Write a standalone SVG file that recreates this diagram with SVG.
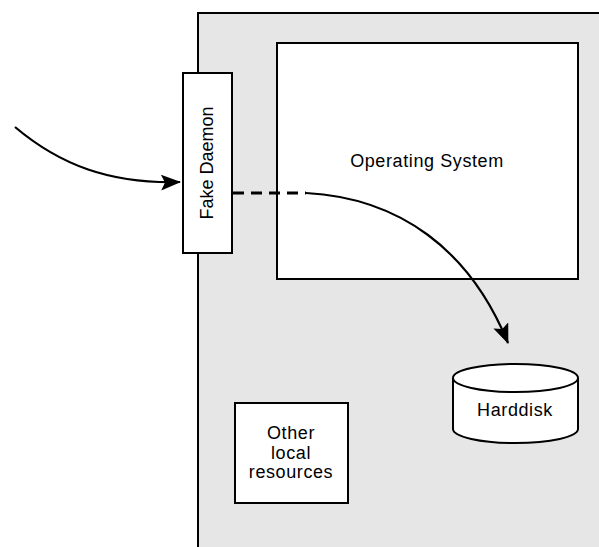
<svg xmlns="http://www.w3.org/2000/svg" width="599" height="547" viewBox="0 0 599 547">
  <style>
    .box { fill: #ffffff; stroke: #000000; stroke-width: 2; }
    .label { font-family: "Liberation Sans", Arial, sans-serif; font-size: 18px; fill: #000000; text-anchor: middle; letter-spacing: 0.6px; }
    .edge { fill: none; stroke: #000000; stroke-width: 2.2; }
    .dash { fill: none; stroke: #000000; stroke-width: 3; stroke-dasharray: 11 7; }
  </style>
  <defs>
    <marker id="arrowhead" viewBox="0 0 20 16" refX="19" refY="8" markerWidth="20" markerHeight="16" markerUnits="userSpaceOnUse" orient="auto">
      <path d="M0,0 L20,8 L0,16 L4,8 Z" fill="#000000"/>
    </marker>
  </defs>

  <!-- host machine -->
  <g id="host">
    <rect x="198" y="13" width="402" height="535" fill="#e6e6e6"/>
    <path d="M198,548 L198,13 L600,13" fill="none" stroke="#000" stroke-width="2"/>
  </g>

  <g id="operating-system">
    <rect class="box" x="277" y="43" width="301" height="236"/>
    <text class="label" x="427" y="167">Operating System</text>
  </g>

  <g id="other-resources">
    <rect class="box" x="235" y="403" width="113" height="100"/>
    <text class="label" x="291" y="439">Other</text>
    <text class="label" x="291" y="459">local</text>
    <text class="label" x="291" y="478">resources</text>
  </g>

  <g id="harddisk">
    <path class="box" d="M453,378 L453,429 A62.5,14 0 0 0 578,429 L578,378 A62.5,14 0 0 0 453,378 Z"/>
    <path d="M453,378 A62.5,14 0 0 0 578,378" fill="none" stroke="#000" stroke-width="2"/>
    <text class="label" x="515" y="416">Harddisk</text>
  </g>

  <g id="fake-daemon">
    <rect class="box" x="183" y="73" width="49" height="180"/>
    <text class="label" style="letter-spacing:0" transform="translate(213,163) rotate(-90)">Fake Daemon</text>
  </g>

  <g id="connectors">
    <path class="edge" d="M15,127 C60,165 110,184 180,182" marker-end="url(#arrowhead)"/>
    <path class="dash" d="M233,193 L306,193"/>
    <path class="edge" d="M306,193 C400,198 470,250 508,343" marker-end="url(#arrowhead)"/>
  </g>
</svg>
